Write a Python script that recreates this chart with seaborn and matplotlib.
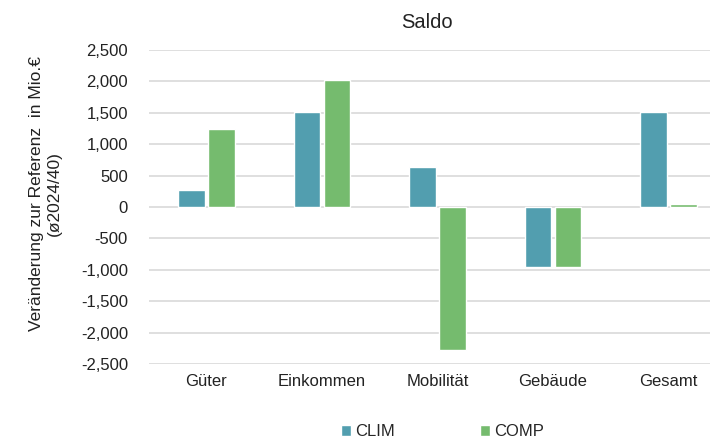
### Dependencies ---------------------------------------------------------------
import pandas as pd
import numpy as np
import matplotlib.pyplot as plt
import seaborn as sns

### Data -----------------------------------------------------------------------
categories = ["Güter", "Einkommen", "Mobilität", "Gebäude", "Gesamt"]
series = ["CLIM", "COMP"]
clim_values = [275, 1520, 640, -950, 1520]
comp_values = [1245, 2015, -2270, -950, 55]
y_ticks = [-2500, -2000, -1500, -1000, -500, 0, 500, 1000, 1500, 2000, 2500]

# long format for seaborn
df = pd.DataFrame({
    "Kategorie": categories * 2,
    "Szenario": ["CLIM"] * len(categories) + ["COMP"] * len(categories),
    "Wert": clim_values + comp_values,
})

### Plot -----------------------------------------------------------------------
sns.set_style("white")
plt.rcParams['font.family'] = ['Liberation Sans', 'DejaVu Sans']

fig = plt.figure(figsize=(7.1, 4.42), dpi=100)
# chart is slightly wider than the picture (right edge cut off like the reference)
ax = fig.add_axes([0.2095, 0.1765, 0.8134, 0.7104])

palette = {"CLIM": "#529EAF", "COMP": "#75BB6E"}
sns.barplot(data=df, x="Kategorie", y="Wert", hue="Szenario", order=categories,
            hue_order=series, palette=palette, width=0.52, gap=0.11,
            saturation=1, ax=ax, legend=True)

ax.set_xlim(-0.5, 4.5)
ax.set_ylim(-2500, 2500)
ax.set_yticks(y_ticks)
ax.set_yticklabels([f"{v:,}" for v in y_ticks])
ax.grid(axis="y", color="#d9d9d9", linewidth=1.2)
ax.set_axisbelow(True)
for s in ax.spines.values():
    s.set_visible(False)
ax.tick_params(axis="both", length=0, labelsize=12, colors="#222222")
ax.tick_params(axis="y", pad=15)
ax.tick_params(axis="x", pad=7)
ax.set_xlabel("")
ax.set_ylabel("Veränderung zur Referenz  in Mio.€\n(ø2024/40)", fontsize=12.5,
              color="#222222", linespacing=1.25)
ax.yaxis.set_label_coords(-0.150, 0.543)
ax.set_title("Saldo", fontsize=14.5, color="#222222", pad=16, x=0.481)

# legend below
handles, labels = ax.get_legend_handles_labels()
ax.legend(handles, labels, loc="center", bbox_to_anchor=(0.509, -0.2166),
          ncol=2, frameon=False, fontsize=12, handlelength=0.6,
          handleheight=0.6, handletextpad=0.25, columnspacing=5.1,
          borderpad=0, borderaxespad=0)

fig.savefig("out.png", dpi=100)
